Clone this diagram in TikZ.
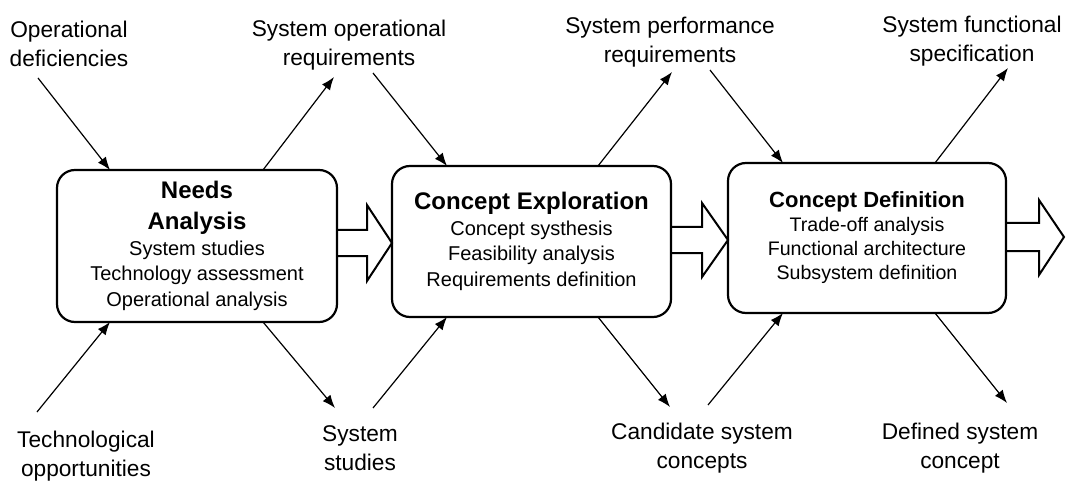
\documentclass[tikz,border=0pt]{standalone}
\usepackage{fontspec}
\setmainfont{Liberation Sans}
\usetikzlibrary{arrows.meta}
\newcommand\phtitle{\fontsize{24}{25.5}\selectfont\bfseries}
\newcommand\phtitlec{\fontsize{22}{24}\selectfont\bfseries}
\begin{document}
\begin{tikzpicture}[x=1pt,y=-1pt,
  phase/.style={draw, line width=2.2pt, rounded corners=18pt, align=center,
    inner sep=0pt, outer sep=0pt, font=\fontsize{20}{25.5}\selectfont},
  lbl/.style={align=center, inner sep=0pt, font=\fontsize{22.7}{29}\selectfont},
  flow/.style={line width=1.2pt, -{Latex[length=13pt,width=10pt]}},
  barrow/.style={line width=2pt, line join=miter}]
\useasboundingbox (0,0) rectangle (1068,481);

% phase boxes
\node[phase, minimum width=280, minimum height=152] (nA) at (197,246)
  {\phtitle Needs\\[5.5pt]\phtitle Analysis\\System studies\\Technology assessment\\Operational analysis};
\node[phase, minimum width=279, minimum height=151] (nB) at (531.5,241.5)
  {\phtitle Concept Exploration\\Concept systhesis\\Feasibility analysis\\Requirements definition};
\node[phase, minimum width=278, minimum height=150, font=\fontsize{19.6}{24}\selectfont] (nC) at (867,238)
  {\phtitlec Concept Definition\\Trade-off analysis\\Functional architecture\\Subsystem definition};

% block arrows
\draw[barrow] ([yshift=16pt]nA.east) -- ++(30,0) -- ++(0,-25) -- ++(25,38)
  -- ++(-25,38) -- ++(0,-25) -- ++(-30,0);
\draw[barrow] ([yshift=14.5pt]nB.east) -- ++(31,0) -- ++(0,-24) -- ++(26,37)
  -- ++(-26,37) -- ++(0,-24) -- ++(-31,0);
\draw[barrow] ([yshift=15pt]nC.east) -- ++(33,0) -- ++(0,-23) -- ++(25,37)
  -- ++(-25,38) -- ++(0,-24) -- ++(-33,0);

% labels
\node[lbl] (lOD)  at (69,44)   {Operational\\deficiencies};
\node[lbl] (lSOR) at (349,45)  {System operational\\requirements};
\node[lbl] (lSPR) at (670,42)  {System performance\\requirements};
\node[lbl] (lSFS) at (972,41)  {System functional\\specification};
\node[lbl] (lTO)  at (86,456)  {Technological\\opportunities};
\node[lbl] (lSS)  at (360,448) {System\\studies};
\node[lbl] (lCSC) at (702,448) {Candidate system\\concepts};
\node[lbl] (lDSC) at (960,448) {Defined system\\concept};

% free ends of connectors
\coordinate (pOD)   at (38,78);
\coordinate (pSORa) at (334,77);
\coordinate (pSORb) at (373,73);
\coordinate (pSPRa) at (672,72);
\coordinate (pSPRb) at (710,70);
\coordinate (pSFS)  at (1008,68);
\coordinate (pTO)   at (37,412);
\coordinate (pSSa)  at (335,408);
\coordinate (pSSb)  at (373,408);
\coordinate (pCSCa) at (670,407);
\coordinate (pCSCb) at (708,405);
\coordinate (pDSC)  at (1007,403);

% connectors
\draw[flow] (pOD) -- ([xshift=53pt]nA.north west);
\draw[flow] ([xshift=206pt]nA.north west) -- (pSORa);
\draw[flow] (pSORb) -- ([xshift=55pt]nB.north west);
\draw[flow] ([xshift=206pt]nB.north west) -- (pSPRa);
\draw[flow] (pSPRb) -- ([xshift=55pt]nC.north west);
\draw[flow] ([xshift=207pt]nC.north west) -- (pSFS);
\draw[flow] (pTO) -- ([xshift=53pt]nA.south west);
\draw[flow] ([xshift=206pt]nA.south west) -- (pSSa);
\draw[flow] (pSSb) -- ([xshift=55pt]nB.south west);
\draw[flow] ([xshift=206pt]nB.south west) -- (pCSCa);
\draw[flow] (pCSCb) -- ([xshift=55pt]nC.south west);
\draw[flow] ([xshift=207pt]nC.south west) -- (pDSC);
\end{tikzpicture}
\end{document}
